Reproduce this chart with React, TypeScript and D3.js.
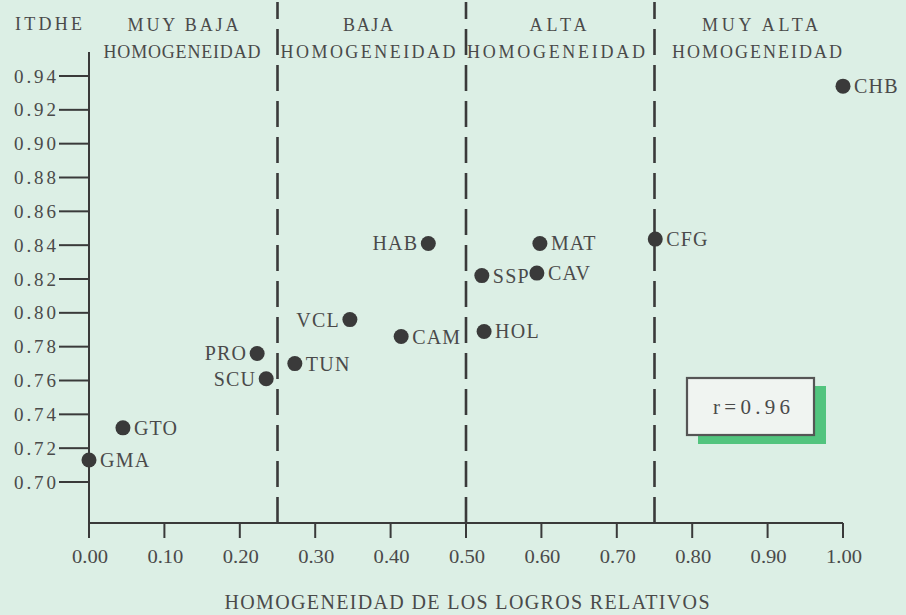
import React from "react";
import * as d3 from "d3";

const names = ["GMA", "GTO", "PRO", "SCU", "TUN", "VCL", "CAM", "HAB", "SSP", "HOL", "CAV", "MAT", "CFG", "CHB"];
const homogeneity = [0.0, 0.045, 0.223, 0.235, 0.273, 0.346, 0.414, 0.45, 0.521, 0.524, 0.594, 0.598, 0.751, 1.0];
const itdhe = [0.713, 0.732, 0.776, 0.761, 0.77, 0.796, 0.786, 0.841, 0.822, 0.789, 0.8235, 0.841, 0.8436, 0.934];
const leftLabelled = ["PRO", "SCU", "VCL", "HAB"];

const xTicks = [0, 0.1, 0.2, 0.3, 0.4, 0.5, 0.6, 0.7, 0.8, 0.9, 1.0];
const yTicks = [0.7, 0.72, 0.74, 0.76, 0.78, 0.8, 0.82, 0.84, 0.86, 0.88, 0.9, 0.92, 0.94];
const boundaries = [0.25, 0.5, 0.75];
const zoneTop = ["MUY BAJA", "BAJA", "ALTA", "MUY ALTA"];
const zoneBottom = ["HOMOGENEIDAD", "HOMOGENEIDAD", "HOMOGENEIDAD", "HOMOGENEIDAD"];
const yTitle = "ITDHE";
const xTitle = "HOMOGENEIDAD DE LOS LOGROS RELATIVOS";
const rLabel = "r=0.96";

const W = 906;
const H = 615;
const BG = "#dcefe5";
const INK = "#3a3a3a";
const TXT = "#4a4a4a";
const FONT = "'Liberation Serif', 'DejaVu Serif', serif";

export default function App() {
  const x = d3.scaleLinear().domain([0, 1]).range([89, 843]);
  const y = d3.scaleLinear().domain([0.7, 0.94]).range([482, 76]);
  const axisY = 523;
  const axisTop = 52;
  const fmt = d3.format(".2f");

  const topCenters = [183, 368, 558, 760];
  const topWidths = [111, 50, 57, 116];
  const botCenters = [182, 368, 556, 757];
  const botWidths = [157, 175, 178, 170];

  const pts = names.map((n, i) => ({ n, xv: homogeneity[i], yv: itdhe[i] }));

  return (
    <div style={{ position: "fixed", left: 0, top: 0, width: W, height: H, background: BG }}>
      <svg width={W} height={H} viewBox={`0 0 ${W} ${H}`} style={{ display: "block" }}>
        <rect x={0} y={0} width={W} height={H} fill={BG} />

        {boundaries.map((b) => (
          <line
            key={b}
            x1={x(b)}
            x2={x(b)}
            y1={axisY}
            y2={2}
            stroke={INK}
            strokeWidth={2.6}
            strokeDasharray="26 10"
          />
        ))}

        <line x1={x(0)} x2={x(0)} y1={axisTop} y2={axisY} stroke={INK} strokeWidth={2} />
        {yTicks.map((t) => (
          <g key={t}>
            <line x1={x(0) - 30} x2={x(0)} y1={y(t)} y2={y(t)} stroke={INK} strokeWidth={2} />
            <text
              x={56}
              y={y(t) + 6.5}
              textAnchor="end"
              fontFamily={FONT}
              fontSize={19}
              fill={TXT}
              textLength={42}
              lengthAdjust="spacing"
            >
              {fmt(t)}
            </text>
          </g>
        ))}

        <line x1={x(0)} x2={x(1)} y1={axisY} y2={axisY} stroke={INK} strokeWidth={2} />
        {xTicks.map((t) => (
          <g key={t}>
            <line x1={x(t)} x2={x(t)} y1={axisY} y2={axisY + 15} stroke={INK} strokeWidth={2} />
            <text
              x={x(t) + 1}
              y={563}
              textAnchor="middle"
              fontFamily={FONT}
              fontSize={19}
              fill={TXT}
              textLength={36}
              lengthAdjust="spacingAndGlyphs"
            >
              {fmt(t)}
            </text>
          </g>
        ))}

        <text x={15} y={30} fontFamily={FONT} fontSize={18} fill={TXT} textLength={67} lengthAdjust="spacing">
          {yTitle}
        </text>
        <text
          x={467}
          y={609}
          textAnchor="middle"
          fontFamily={FONT}
          fontSize={20}
          fill={TXT}
          textLength={485}
          lengthAdjust="spacing"
        >
          {xTitle}
        </text>

        {zoneTop.map((s, i) => (
          <text
            key={"t" + i}
            x={topCenters[i] - topWidths[i] / 2}
            y={31}
            fontFamily={FONT}
            fontSize={18}
            fill={TXT}
            textLength={topWidths[i]}
            lengthAdjust="spacing"
          >
            {s}
          </text>
        ))}
        {zoneBottom.map((s, i) => (
          <text
            key={"b" + i}
            x={botCenters[i] - botWidths[i] / 2}
            y={58}
            fontFamily={FONT}
            fontSize={18}
            fill={TXT}
            textLength={botWidths[i]}
            lengthAdjust="spacing"
          >
            {s}
          </text>
        ))}

        {pts.map((p) => {
          const cx = x(p.xv);
          const cy = y(p.yv);
          const left = leftLabelled.includes(p.n);
          return (
            <g key={p.n}>
              <circle cx={cx} cy={cy} r={7.5} fill={INK} />
              <text
                x={left ? cx - 10 : cx + 11}
                y={cy + 7}
                textAnchor={left ? "end" : "start"}
                fontFamily={FONT}
                fontSize={20}
                fill={TXT}
                letterSpacing={1.2}
              >
                {p.n}
              </text>
            </g>
          );
        })}

        <rect x={698} y={386} width={128} height={58} fill="#52c47e" />
        <rect x={687} y={378} width={127} height={57} fill="#f0f4f1" stroke="#555" strokeWidth={2.2} />
        <text
          x={713}
          y={414}
          fontFamily={FONT}
          fontSize={21}
          fill={TXT}
          textLength={77}
          lengthAdjust="spacing"
        >
          {rLabel}
        </text>
      </svg>
    </div>
  );
}
